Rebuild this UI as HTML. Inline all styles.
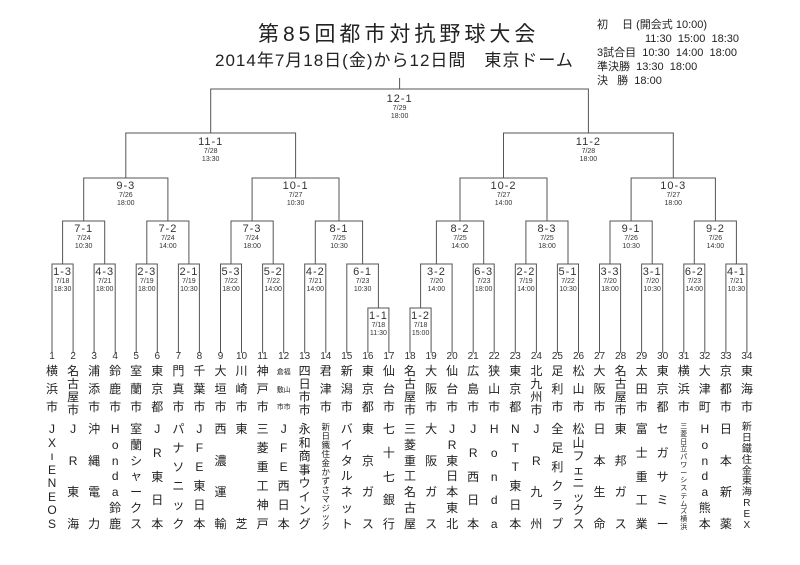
<!DOCTYPE html>
<html><head><meta charset="utf-8"><style>
body{margin:0;background:#fff;}
#c{position:relative;width:800px;height:565px;overflow:hidden;background:#fff;font-family:"Liberation Sans","Noto Sans CJK JP",sans-serif;color:#222;}
.a{position:absolute;white-space:nowrap;}
.m{position:absolute;width:60px;text-align:center;color:#333;}
.m b{display:block;font-weight:normal;font-size:11px;line-height:11px;letter-spacing:1px;}
.m i{display:block;font-style:normal;font-size:7px;line-height:8px;}
.m u{display:block;text-decoration:none;font-size:7px;line-height:7px;}
.n{position:absolute;top:351px;width:18px;text-align:center;font-size:10px;line-height:11px;color:#333;}
.cy,.tm{position:absolute;width:18px;display:flex;flex-direction:column;justify-content:space-between;align-items:center;font-size:12px;line-height:13px;}
.cy{top:365px;height:49px;}
.tm{top:423px;height:108px;}
</style></head><body><div id="c">
<div class="a" style="left:258px;top:18px;font-size:21px;letter-spacing:4px;">第85回都市対抗野球大会</div>
<div class="a" style="left:215px;top:46px;font-size:17px;letter-spacing:1px;">2014年7月18日(金)から12日間　東京ドーム</div>
<div class="a" style="left:597px;top:18px;font-size:11px;line-height:14px;">
<div>初　 日 (開会式 10:00)</div>
<div style="padding-left:48px">11:30 &nbsp;15:00 &nbsp;18:30</div>
<div>3試合目 &nbsp;10:30 &nbsp;14:00 &nbsp;18:00</div>
<div>準決勝 &nbsp;13:30 &nbsp;18:00</div>
<div>決 &nbsp; 勝 &nbsp;18:00</div>
</div>
<svg width="800" height="565" style="position:absolute;left:0;top:0" fill="none" stroke="#555" stroke-width="1">
<path d="M399.6 78V89M210.7 133V89H588.4V133"/>
<path d="M125.8 178V133H295.6V178M503.5 178V133H673.3V178"/>
<path d="M83.7 221V178H167.9V221M252.1 221V178H339V221M460 221V178H547V221M631.1 221V178H715.4V221"/>
<path d="M62.6 264V221H104.7V264M146.8 264V221H188.9V264M231 264V221H273.2V264M315.3 264V221H362.6V264M436.4 264V221H483.7V264M525.9 264V221H568V264M610 264V221H652.2V264M694.3 264V221H736.4V264"/>
<path d="M52 353V264H73.1V353M94.1 353V264H115.2V353M136.2 353V264H157.3V353M178.4 353V264H199.4V353M220.5 353V264H241.5V353M262.6 353V264H283.7V353M304.7 353V264H325.8V353M346.8 353V264H378.4V308M367.9 353V308H388.9V353"/>
<path d="M410 353V308H431.1V353M420.6 308V264H452.1V353M473.2 353V264H494.2V353M515.3 353V264H536.4V353M557.4 353V264H578.5V353M599.5 353V264H620.6V353M641.6 353V264H662.7V353M683.8 353V264H704.8V353M725.9 353V264H746.9V353"/>
</svg>
<div class="m" style="left:369.6px;top:94px"><b>12-1</b><i>7/29</i><u>18:00</u></div>
<div class="m" style="left:180.7px;top:137px"><b>11-1</b><i>7/28</i><u>13:30</u></div>
<div class="m" style="left:558.4px;top:137px"><b>11-2</b><i>7/28</i><u>18:00</u></div>
<div class="m" style="left:95.8px;top:181px"><b>9-3</b><i>7/26</i><u>18:00</u></div>
<div class="m" style="left:265.6px;top:181px"><b>10-1</b><i>7/27</i><u>10:30</u></div>
<div class="m" style="left:473.5px;top:181px"><b>10-2</b><i>7/27</i><u>14:00</u></div>
<div class="m" style="left:643.3px;top:181px"><b>10-3</b><i>7/27</i><u>18:00</u></div>
<div class="m" style="left:53.7px;top:224px"><b>7-1</b><i>7/24</i><u>10:30</u></div>
<div class="m" style="left:137.9px;top:224px"><b>7-2</b><i>7/24</i><u>14:00</u></div>
<div class="m" style="left:222.1px;top:224px"><b>7-3</b><i>7/24</i><u>18:00</u></div>
<div class="m" style="left:309px;top:224px"><b>8-1</b><i>7/25</i><u>10:30</u></div>
<div class="m" style="left:430px;top:224px"><b>8-2</b><i>7/25</i><u>14:00</u></div>
<div class="m" style="left:517px;top:224px"><b>8-3</b><i>7/25</i><u>18:00</u></div>
<div class="m" style="left:601.1px;top:224px"><b>9-1</b><i>7/26</i><u>10:30</u></div>
<div class="m" style="left:685.4px;top:224px"><b>9-2</b><i>7/26</i><u>14:00</u></div>
<div class="m" style="left:32.6px;top:267px"><b>1-3</b><i>7/18</i><u>18:30</u></div>
<div class="m" style="left:74.7px;top:267px"><b>4-3</b><i>7/21</i><u>18:00</u></div>
<div class="m" style="left:116.8px;top:267px"><b>2-3</b><i>7/19</i><u>18:00</u></div>
<div class="m" style="left:158.9px;top:267px"><b>2-1</b><i>7/19</i><u>10:30</u></div>
<div class="m" style="left:201px;top:267px"><b>5-3</b><i>7/22</i><u>18:00</u></div>
<div class="m" style="left:243.2px;top:267px"><b>5-2</b><i>7/22</i><u>14:00</u></div>
<div class="m" style="left:285.3px;top:267px"><b>4-2</b><i>7/21</i><u>14:00</u></div>
<div class="m" style="left:332.6px;top:267px"><b>6-1</b><i>7/23</i><u>10:30</u></div>
<div class="m" style="left:348.4px;top:311px"><b>1-1</b><i>7/18</i><u>11:30</u></div>
<div class="m" style="left:390.6px;top:311px"><b>1-2</b><i>7/18</i><u>15:00</u></div>
<div class="m" style="left:406.4px;top:267px"><b>3-2</b><i>7/20</i><u>14:00</u></div>
<div class="m" style="left:453.7px;top:267px"><b>6-3</b><i>7/23</i><u>18:00</u></div>
<div class="m" style="left:495.9px;top:267px"><b>2-2</b><i>7/19</i><u>14:00</u></div>
<div class="m" style="left:538px;top:267px"><b>5-1</b><i>7/22</i><u>10:30</u></div>
<div class="m" style="left:580px;top:267px"><b>3-3</b><i>7/20</i><u>18:00</u></div>
<div class="m" style="left:622.2px;top:267px"><b>3-1</b><i>7/20</i><u>10:30</u></div>
<div class="m" style="left:664.3px;top:267px"><b>6-2</b><i>7/23</i><u>14:00</u></div>
<div class="m" style="left:706.4px;top:267px"><b>4-1</b><i>7/21</i><u>10:30</u></div>

<div class="n" style="left:43px">1</div><div class="cy" style="left:43px"><span>横</span><span>浜</span><span>市</span></div><div class="tm" style="left:43px"><span>J</span><span>X</span><span>ı</span><span>E</span><span>N</span><span>E</span><span>O</span><span>S</span></div>
<div class="n" style="left:64.1px">2</div><div class="cy" style="left:64.1px"><span>名</span><span>古</span><span>屋</span><span>市</span></div><div class="tm" style="left:64.1px"><span>J</span><span>R</span><span>東</span><span>海</span></div>
<div class="n" style="left:85.1px">3</div><div class="cy" style="left:85.1px"><span>浦</span><span>添</span><span>市</span></div><div class="tm" style="left:85.1px"><span>沖</span><span>縄</span><span>電</span><span>力</span></div>
<div class="n" style="left:106.2px">4</div><div class="cy" style="left:106.2px"><span>鈴</span><span>鹿</span><span>市</span></div><div class="tm" style="left:106.2px"><span>H</span><span>o</span><span>n</span><span>d</span><span>a</span><span>鈴</span><span>鹿</span></div>
<div class="n" style="left:127.2px">5</div><div class="cy" style="left:127.2px"><span>室</span><span>蘭</span><span>市</span></div><div class="tm" style="left:127.2px"><span>室</span><span>蘭</span><span>シ</span><span>ャ</span><span>ー</span><span>ク</span><span>ス</span></div>
<div class="n" style="left:148.3px">6</div><div class="cy" style="left:148.3px"><span>東</span><span>京</span><span>都</span></div><div class="tm" style="left:148.3px"><span>J</span><span>R</span><span>東</span><span>日</span><span>本</span></div>
<div class="n" style="left:169.4px">7</div><div class="cy" style="left:169.4px"><span>門</span><span>真</span><span>市</span></div><div class="tm" style="left:169.4px"><span>パ</span><span>ナ</span><span>ソ</span><span>ニ</span><span>ッ</span><span>ク</span></div>
<div class="n" style="left:190.4px">8</div><div class="cy" style="left:190.4px"><span>千</span><span>葉</span><span>市</span></div><div class="tm" style="left:190.4px"><span>J</span><span>F</span><span>E</span><span>東</span><span>日</span><span>本</span></div>
<div class="n" style="left:211.5px">9</div><div class="cy" style="left:211.5px"><span>大</span><span>垣</span><span>市</span></div><div class="tm" style="left:211.5px"><span>西</span><span>濃</span><span>運</span><span>輸</span></div>
<div class="n" style="left:232.5px">10</div><div class="cy" style="left:232.5px"><span>川</span><span>崎</span><span>市</span></div><div class="tm" style="left:232.5px"><span>東</span><span>芝</span></div>
<div class="n" style="left:253.6px">11</div><div class="cy" style="left:253.6px"><span>神</span><span>戸</span><span>市</span></div><div class="tm" style="left:253.6px"><span>三</span><span>菱</span><span>重</span><span>工</span><span>神</span><span>戸</span></div>
<div class="n" style="left:274.7px">12</div><div class="cy" style="left:274.7px;font-size:7px;line-height:9px;top:368px;height:44px"><span>倉福</span><span>敷山</span><span>市市</span></div><div class="tm" style="left:274.7px"><span>J</span><span>F</span><span>E</span><span>西</span><span>日</span><span>本</span></div>
<div class="n" style="left:295.7px">13</div><div class="cy" style="left:295.7px"><span>四</span><span>日</span><span>市</span><span>市</span></div><div class="tm" style="left:295.7px"><span>永</span><span>和</span><span>商</span><span>事</span><span>ウ</span><span>イ</span><span>ン</span><span>グ</span></div>
<div class="n" style="left:316.8px">14</div><div class="cy" style="left:316.8px"><span>君</span><span>津</span><span>市</span></div><div class="tm" style="left:316.8px;font-size:8.5px;line-height:9px"><span>新</span><span>日</span><span>鐵</span><span>住</span><span>金</span><span>か</span><span>ず</span><span>さ</span><span>マ</span><span>ジ</span><span>ッ</span><span>ク</span></div>
<div class="n" style="left:337.8px">15</div><div class="cy" style="left:337.8px"><span>新</span><span>潟</span><span>市</span></div><div class="tm" style="left:337.8px"><span>バ</span><span>イ</span><span>タ</span><span>ル</span><span>ネ</span><span>ッ</span><span>ト</span></div>
<div class="n" style="left:358.9px">16</div><div class="cy" style="left:358.9px"><span>東</span><span>京</span><span>都</span></div><div class="tm" style="left:358.9px"><span>東</span><span>京</span><span>ガ</span><span>ス</span></div>
<div class="n" style="left:379.9px">17</div><div class="cy" style="left:379.9px"><span>仙</span><span>台</span><span>市</span></div><div class="tm" style="left:379.9px"><span>七</span><span>十</span><span>七</span><span>銀</span><span>行</span></div>
<div class="n" style="left:401px">18</div><div class="cy" style="left:401px"><span>名</span><span>古</span><span>屋</span><span>市</span></div><div class="tm" style="left:401px"><span>三</span><span>菱</span><span>重</span><span>工</span><span>名</span><span>古</span><span>屋</span></div>
<div class="n" style="left:422.1px">19</div><div class="cy" style="left:422.1px"><span>大</span><span>阪</span><span>市</span></div><div class="tm" style="left:422.1px"><span>大</span><span>阪</span><span>ガ</span><span>ス</span></div>
<div class="n" style="left:443.1px">20</div><div class="cy" style="left:443.1px"><span>仙</span><span>台</span><span>市</span></div><div class="tm" style="left:443.1px"><span>J</span><span>R</span><span>東</span><span>日</span><span>本</span><span>東</span><span>北</span></div>
<div class="n" style="left:464.2px">21</div><div class="cy" style="left:464.2px"><span>広</span><span>島</span><span>市</span></div><div class="tm" style="left:464.2px"><span>J</span><span>R</span><span>西</span><span>日</span><span>本</span></div>
<div class="n" style="left:485.2px">22</div><div class="cy" style="left:485.2px"><span>狭</span><span>山</span><span>市</span></div><div class="tm" style="left:485.2px"><span>H</span><span>o</span><span>n</span><span>d</span><span>a</span></div>
<div class="n" style="left:506.3px">23</div><div class="cy" style="left:506.3px"><span>東</span><span>京</span><span>都</span></div><div class="tm" style="left:506.3px"><span>N</span><span>T</span><span>T</span><span>東</span><span>日</span><span>本</span></div>
<div class="n" style="left:527.4px">24</div><div class="cy" style="left:527.4px"><span>北</span><span>九</span><span>州</span><span>市</span></div><div class="tm" style="left:527.4px"><span>J</span><span>R</span><span>九</span><span>州</span></div>
<div class="n" style="left:548.4px">25</div><div class="cy" style="left:548.4px"><span>足</span><span>利</span><span>市</span></div><div class="tm" style="left:548.4px"><span>全</span><span>足</span><span>利</span><span>ク</span><span>ラ</span><span>ブ</span></div>
<div class="n" style="left:569.5px">26</div><div class="cy" style="left:569.5px"><span>松</span><span>山</span><span>市</span></div><div class="tm" style="left:569.5px"><span>松</span><span>山</span><span>フ</span><span>ェ</span><span>ニ</span><span>ッ</span><span>ク</span><span>ス</span></div>
<div class="n" style="left:590.5px">27</div><div class="cy" style="left:590.5px"><span>大</span><span>阪</span><span>市</span></div><div class="tm" style="left:590.5px"><span>日</span><span>本</span><span>生</span><span>命</span></div>
<div class="n" style="left:611.6px">28</div><div class="cy" style="left:611.6px"><span>名</span><span>古</span><span>屋</span><span>市</span></div><div class="tm" style="left:611.6px"><span>東</span><span>邦</span><span>ガ</span><span>ス</span></div>
<div class="n" style="left:632.6px">29</div><div class="cy" style="left:632.6px"><span>太</span><span>田</span><span>市</span></div><div class="tm" style="left:632.6px"><span>富</span><span>士</span><span>重</span><span>工</span><span>業</span></div>
<div class="n" style="left:653.7px">30</div><div class="cy" style="left:653.7px"><span>東</span><span>京</span><span>都</span></div><div class="tm" style="left:653.7px"><span>セ</span><span>ガ</span><span>サ</span><span>ミ</span><span>ー</span></div>
<div class="n" style="left:674.8px">31</div><div class="cy" style="left:674.8px"><span>横</span><span>浜</span><span>市</span></div><div class="tm" style="left:674.8px;font-size:7px;line-height:7px"><span>三</span><span>菱</span><span>日</span><span>立</span><span>パ</span><span>ワ</span><span>ー</span><span>シ</span><span>ス</span><span>テ</span><span>ム</span><span>ズ</span><span>横</span><span>浜</span></div>
<div class="n" style="left:695.8px">32</div><div class="cy" style="left:695.8px"><span>大</span><span>津</span><span>町</span></div><div class="tm" style="left:695.8px"><span>H</span><span>o</span><span>n</span><span>d</span><span>a</span><span>熊</span><span>本</span></div>
<div class="n" style="left:716.9px">33</div><div class="cy" style="left:716.9px"><span>京</span><span>都</span><span>市</span></div><div class="tm" style="left:716.9px"><span>日</span><span>本</span><span>新</span><span>薬</span></div>
<div class="n" style="left:737.9px">34</div><div class="cy" style="left:737.9px"><span>東</span><span>海</span><span>市</span></div><div class="tm" style="left:737.9px;font-size:10px;line-height:10px"><span>新</span><span>日</span><span>鐵</span><span>住</span><span>金</span><span>東</span><span>海</span><span>R</span><span>E</span><span>X</span></div>
</div></body></html>
